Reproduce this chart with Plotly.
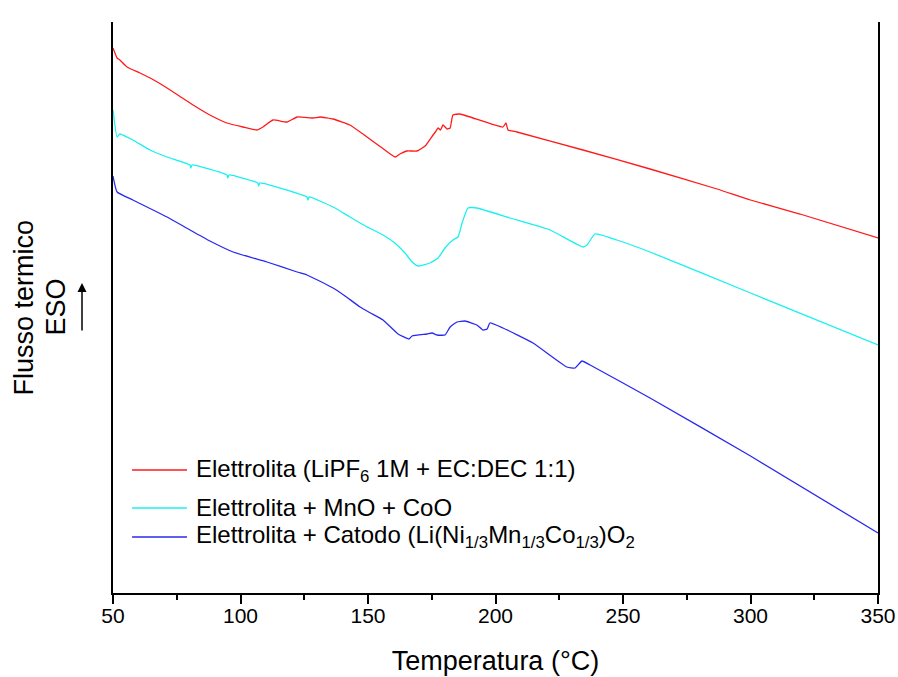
import plotly.graph_objects as go

# DSC traces: temperature (°C) vs heat flow (arbitrary units, exo up)
t_elettrolita = [50, 51.6, 52.7, 55.5, 60.6, 66, 71.2, 76, 81.4, 88, 94.7, 101, 106.5, 108.8,
                 112.7, 118.2, 122.2, 128.4, 131.2, 136.3, 142.9, 149.6, 155, 160.6, 162.5,
                 165.3, 169.2, 172.4, 175.5, 176.4, 177.5, 178.4, 179.4, 181, 182.2, 183.3,
                 186.1, 202.9, 204.1, 204.9, 208.4, 234.3, 260.6, 286.9, 300, 319.4, 350]
q_elettrolita = [545, 535, 533, 526, 520, 513, 505, 497, 488, 478, 470, 466, 463, 466,
                 473, 471, 476, 475, 476, 474, 468, 456, 446, 436, 439,
                 442, 442, 447, 458, 461, 465, 463, 468, 464, 465, 478,
                 479, 466, 470, 463, 461, 443, 424, 404, 393, 379, 355]

t_mno_coo = [50, 51.6, 52.7, 57.8, 64.5, 71.2, 80.2, 80.5, 81, 94.7, 95, 95.5,
             106.8, 107.1, 107.6, 126.1, 126.4, 126.9, 136.3, 142.9, 149, 155.9, 160.5,
             164.5, 167.3, 169.6, 174.3, 177.5, 180.2, 183.3, 185.3, 186.9, 189.2, 192.7,
             205.7, 221.4, 234.3, 235.9, 239, 247.6, 260.6, 300, 350]
q_mno_coo = [483, 456, 459, 453, 443, 436, 428, 425, 428, 418, 415, 418,
             410, 407, 410, 396, 393, 396, 386, 376, 367, 358, 350,
             340, 331, 327, 330, 335, 345, 353, 356, 370, 385, 385,
             375, 363, 346, 348, 359, 353, 341, 300, 248]

t_catodo = [50, 51.6, 57.8, 71.2, 80.2, 88, 97.1, 110.4, 122.2, 126.1, 131, 136.3, 141,
            146.9, 151, 155.9, 161.8, 166.1, 167.3, 173.1, 175.1, 177.1, 180.2, 182.2,
            184.9, 188, 192.7, 195.1, 196.7, 197.8, 202.9, 214.7, 228, 231.2, 233.9,
            237.1, 260.6, 300, 350]
q_catodo = [417, 401, 393, 376, 363, 352, 341, 331, 321, 318, 312, 305, 297,
            286, 280, 273, 259, 254, 257, 259, 260, 258, 258, 266,
            271, 272, 268, 263, 264, 270, 265, 250, 226, 225, 232,
            228, 195, 137, 60]

series_names = [
    "Elettrolita (LiPF<sub>6</sub> 1M + EC:DEC 1:1)",
    "Elettrolita + MnO + CoO",
    "Elettrolita + Catodo (Li(Ni<sub>1/3</sub>Mn<sub>1/3</sub>Co<sub>1/3</sub>)O<sub>2</sub>",
]
series_colors = ["#ff1a1a", "#1af0f0", "#2a2aee"]
x_ticks = [50, 100, 150, 200, 250, 300, 350]

FONT = "Liberation Sans, Arial, sans-serif"

fig = go.Figure()
for t, q, name, col in zip([t_elettrolita, t_mno_coo, t_catodo],
                           [q_elettrolita, q_mno_coo, q_catodo],
                           series_names, series_colors):
    fig.add_trace(go.Scatter(x=t, y=q, mode="lines", name=name,
                             line=dict(color=col, width=1.3, shape="spline", smoothing=0.4),
                             showlegend=False))

# legend drawn as line samples + labels
legend_rows_y = [0.2154, 0.1489, 0.0981]
for name, col, yy in zip(series_names, series_colors, legend_rows_y):
    fig.add_shape(type="line", xref="paper", yref="paper",
                  x0=0.0249, x1=0.0967, y0=yy, y1=yy,
                  line=dict(color=col, width=1.3))
    fig.add_annotation(xref="paper", yref="paper", x=0.1059, y=yy,
                       xanchor="left", yanchor="middle", showarrow=False,
                       text=name, font=dict(family=FONT, size=24, color="black"))

# y-axis title in two columns plus the exo arrow
fig.add_annotation(xref="paper", yref="paper", x=(23 - 113) / 765, y=0.5,
                   text="Flusso termico", textangle=-90, showarrow=False,
                   xanchor="center", yanchor="middle",
                   font=dict(family=FONT, size=27, color="black"))
fig.add_annotation(xref="paper", yref="paper", x=(55 - 113) / 765, y=0.5,
                   text="ESO", textangle=-90, showarrow=False,
                   xanchor="center", yanchor="middle",
                   font=dict(family=FONT, size=27, color="black"))
fig.add_annotation(xref="paper", yref="paper", x=(82 - 113) / 765, y=(593 - 283) / 571,
                   ax=0, ay=49, axref="pixel", ayref="pixel", text="",
                   showarrow=True, arrowhead=2, arrowsize=1.2, arrowwidth=1.5,
                   arrowcolor="black")

fig.update_layout(
    width=898, height=677,
    margin=dict(l=113, r=20, t=22, b=84, autoexpand=False),
    paper_bgcolor="white", plot_bgcolor="white",
    font=dict(family=FONT, color="black"),
    xaxis=dict(
        range=[50, 350], tickvals=x_ticks, ticks="outside", ticklen=9, tickwidth=2,
        tickcolor="black", showline=True, linecolor="black", linewidth=2,
        showgrid=False, zeroline=False, tickfont=dict(size=21), automargin=False,
        ticklabelstandoff=-6,
        minor=dict(dtick=25, ticks="outside", ticklen=5, tickwidth=2, tickcolor="black"),
        title=dict(text="Temperatura (°C)", font=dict(size=27), standoff=25),
    ),
    xaxis2=dict(
        range=[50, 350], tickvals=x_ticks, overlaying="x", side="top",
        ticks="outside", ticklen=9, tickwidth=2, tickcolor="black",
        showline=True, linecolor="black", linewidth=2, showticklabels=False,
        showgrid=False, zeroline=False, automargin=False,
    ),
    yaxis=dict(
        range=[0, 571], showline=True, mirror=True, linecolor="black", linewidth=2,
        showticklabels=False, ticks="", showgrid=False, zeroline=False, automargin=False,
    ),
)

fig.write_html("out.html")
